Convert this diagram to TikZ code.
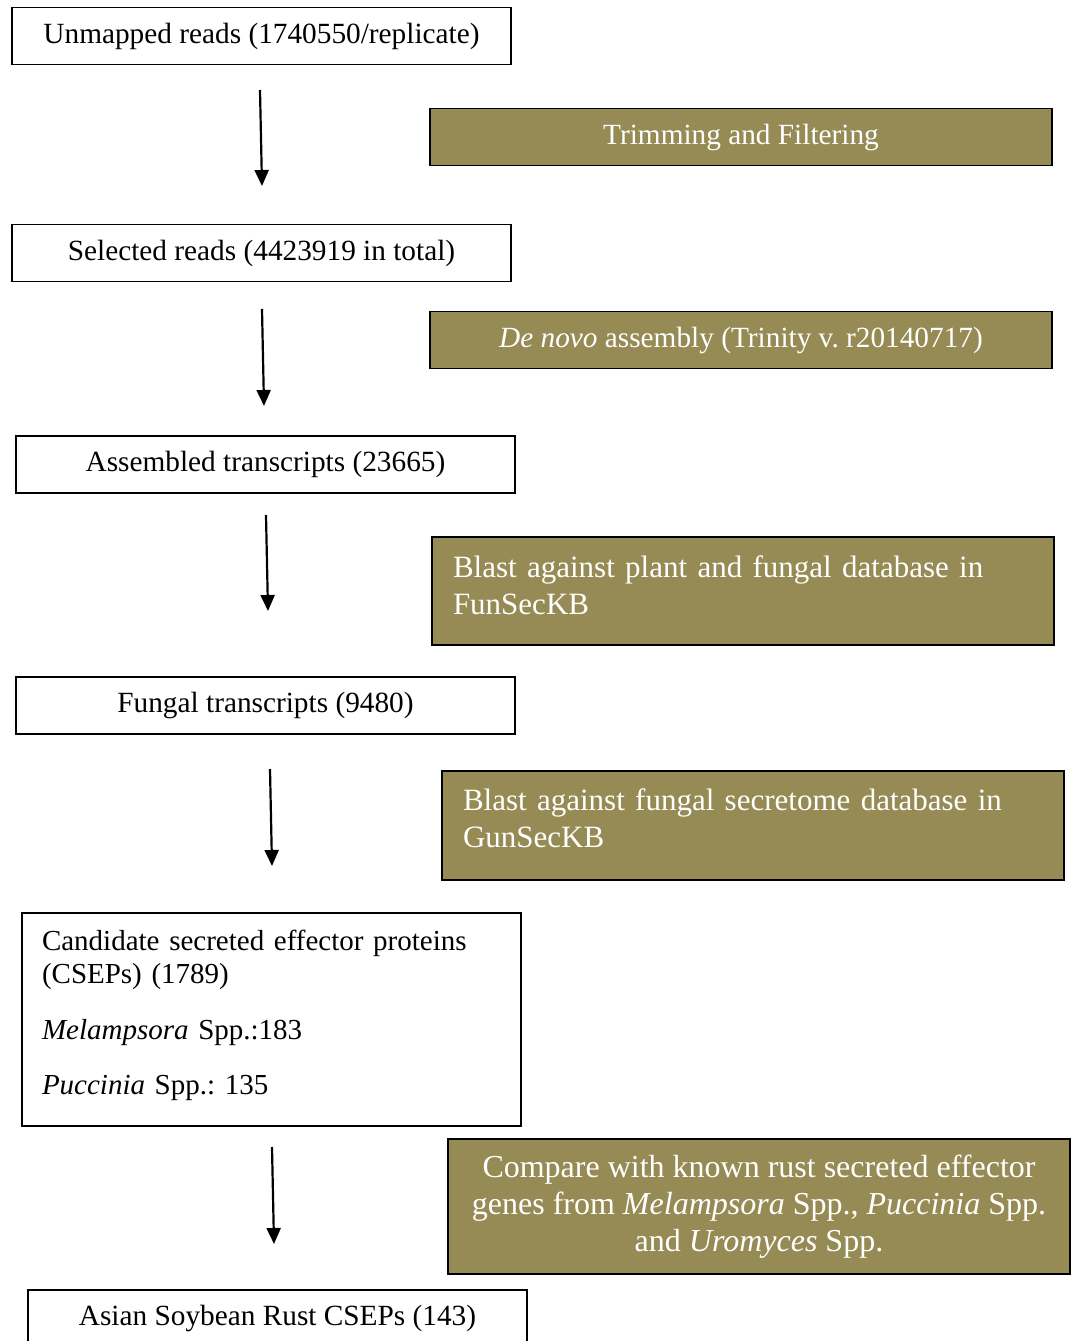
\documentclass[tikz,border=0pt]{standalone}
\usepackage{fontspec}
\setmainfont{Liberation Serif}
\usetikzlibrary{arrows.meta}
\definecolor{olivebox}{HTML}{968B54}
\frenchspacing
\tikzset{
    result/.style={draw=black,line width=1.5pt,fill=white,
        minimum width=499pt,minimum height=57pt,inner sep=0pt,
        font=\fontsize{29.3}{37}\selectfont},
    process/.style={draw=black,line width=1.5pt,fill=olivebox,text=white,
        minimum width=622pt,minimum height=57pt,inner sep=0pt,
        font=\fontsize{29.3}{37}\selectfont},
    flow/.style={line width=2.2pt,-{Triangle[width=14pt,length=16pt]}}
}

\begin{document}
\begin{tikzpicture}[x=1pt,y=-1pt]
        \useasboundingbox (0,0) rectangle (1075,1341);
        % results on the left
        \node[result] (unmapped) at (261.5,36) {Unmapped reads (1740550/replicate)};
        \node[result] (selected) at (261.5,253) {Selected reads (4423919 in total)};
        \node[result] (assembled) at (265.5,464.5) {Assembled transcripts (23665)};
        \node[result] (fungal) at (265.5,705.5) {Fungal transcripts (9480)};
        \node[result,minimum height=213pt,text width=459pt,align=left,text depth=158pt,
            font=\fontsize{29}{37}\selectfont] (cseps) at (271.5,1019.5)
            {Candidate secreted effector proteins\\[-4pt] (CSEPs) (1789)\\[19pt]
             \textit{Melampsora} Spp.:183\\[18pt]
             \textit{Puccinia} Spp.: 135};
        \node[result,anchor=north] (asian) at (277.5,1289) {Asian Soybean Rust CSEPs (143)};
        % processing steps on the right
        \node[process] (trim) at (741,137) {Trimming and Filtering};
        \node[process] (denovo) at (741,340) {\textit{De novo} assembly (Trinity v. r20140717)};
        \node[process,minimum height=108pt,text width=580pt,align=left,text depth=49pt,
            font=\fontsize{31}{37}\selectfont] (blastplant) at (743,591)
            {Blast against plant and fungal database in\\ FunSecKB};
        \node[process,minimum height=109pt,text width=580pt,align=left,text depth=51pt,
            font=\fontsize{31}{37}\selectfont] (blastsecr) at (753,825.5)
            {Blast against fungal secretome database in\\ GunSecKB};
        \node[process,minimum height=135pt,align=center,
            font=\fontsize{32}{37}\selectfont] (compare) at (759,1206.5)
            {Compare with known rust secreted effector\\
             genes from \textit{Melampsora} Spp., \textit{Puccinia} Spp.\\
             and \textit{Uromyces} Spp.};
        % arrows
        \coordinate (a1s) at (260,90);   \coordinate (a1e) at (262,186);
        \coordinate (a2s) at (262,309);  \coordinate (a2e) at (264,406);
        \coordinate (a3s) at (266,515);  \coordinate (a3e) at (268,611);
        \coordinate (a4s) at (270,769);  \coordinate (a4e) at (272,866);
        \coordinate (a5s) at (272,1147); \coordinate (a5e) at (274,1244);
        \foreach \i in {1,...,5}
            \draw[flow] (a\i s) -- (a\i e);
\end{tikzpicture}
\end{document}
